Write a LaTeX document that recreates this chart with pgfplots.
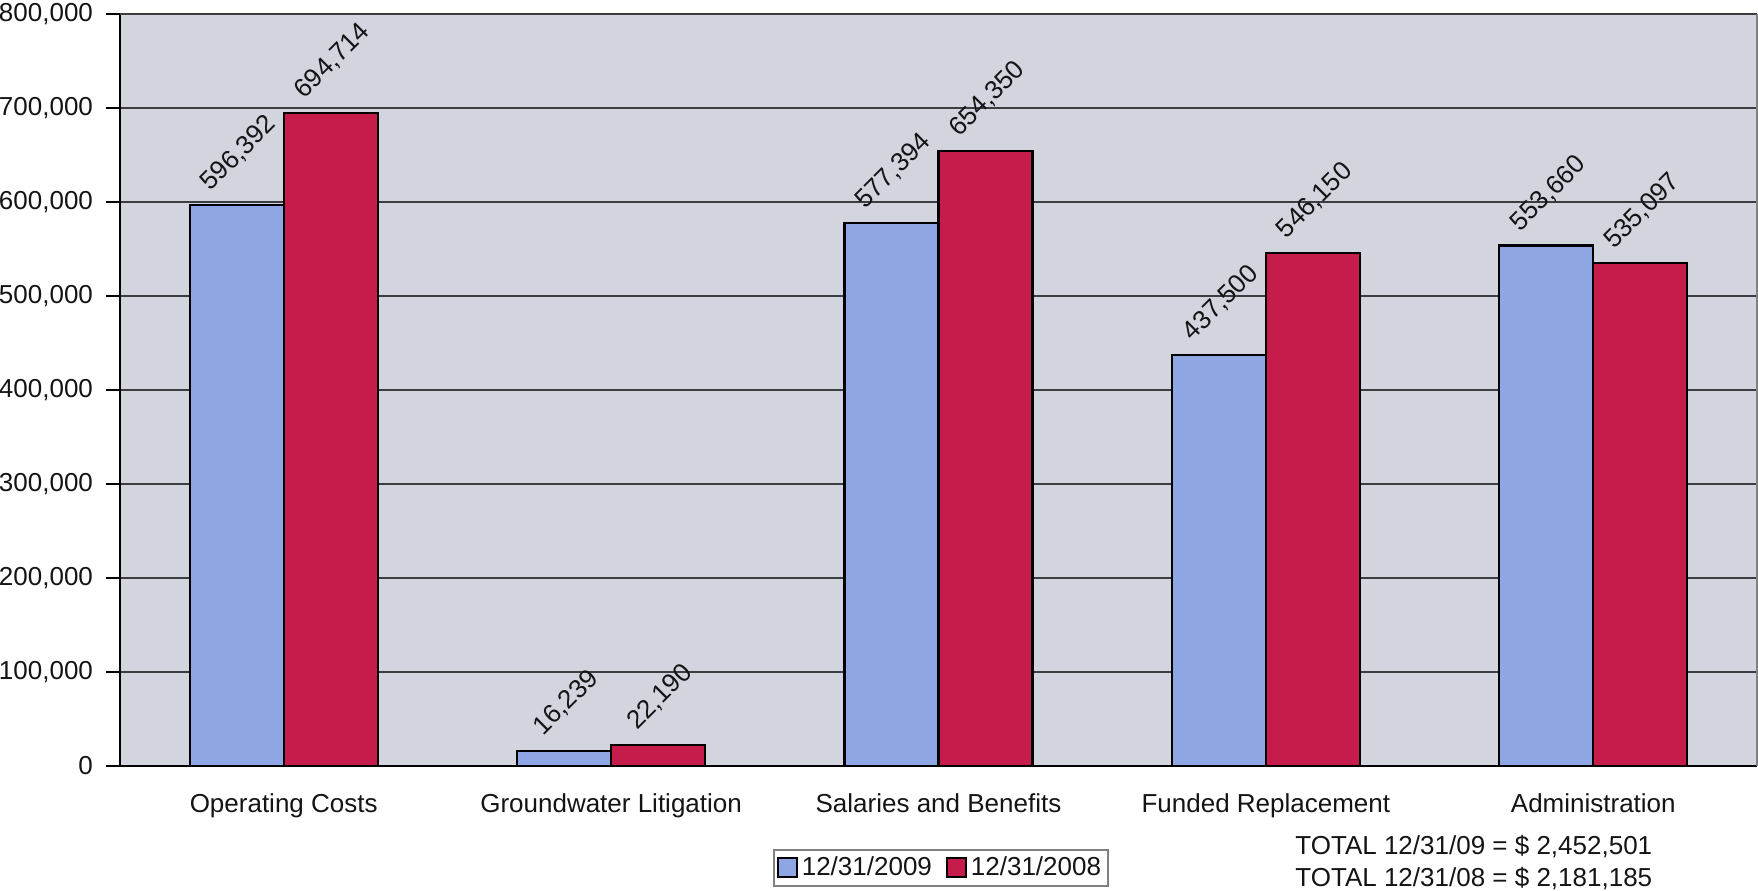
\documentclass[border=0pt]{standalone}
\usepackage{fontspec}
\setmainfont{Liberation Sans}
\usepackage{pgfplots}
\pgfplotsset{compat=1.18}

\definecolor{bar09}{RGB}{143,166,228}
\definecolor{bar08}{RGB}{198,28,76}
\definecolor{plotbg}{RGB}{210,212,222}
\definecolor{gridc}{RGB}{60,60,65}
\definecolor{txt}{RGB}{20,20,20}

\begin{document}
\begin{tikzpicture}[font=\fontsize{13bp}{15.5bp}\selectfont, text=txt]
\path[use as bounding box] (-60bp,-62.5bp) rectangle (819bp,383bp);
\begin{axis}[
  at={(0,0)}, anchor=south west,
  scale only axis,
  width=818.5bp, height=376bp,
  xmin=-0.5, xmax=4.5,
  ymin=0, ymax=800000,
  ytick={0,100000,...,800000},
  scaled y ticks=false,
  /pgf/number format/assume math mode=true,
  /pgf/number format/fixed,
  /pgf/number format/precision=0,
  /pgf/number format/1000 sep={,},
  yticklabel style={xshift=-3bp},
  xtick={0,1,2,3,4},
  xticklabels={Operating Costs, Groundwater Litigation, Salaries and Benefits, Funded Replacement, Administration},
  xticklabel style={yshift=-3.5bp},
  x tick style={draw=none},
  extra x ticks={-0.5,0.5,1.5,2.5,3.5,4.5},
  extra x tick labels={},
  extra x tick style={major tick length=7bp, tick align=outside, tick style={draw=black, line width=0.8bp}, grid=none},
  y tick style={draw=black, line width=0.8bp},
  tick align=outside,
  major tick length=7bp,
  ymajorgrids,
  grid style={draw=gridc, line width=0.9bp},
  axis background/.style={fill=plotbg},
  separate axis lines,
  axis x line*=bottom, axis y line*=left,
  x axis line style={draw=black, line width=1bp, -},
  y axis line style={draw=black, line width=1bp, -},
  bar width=0.287,
  ybar=0pt,
  nodes near coords,
  visualization depends on={x \as \catx},
  every node near coord/.append style={anchor=center,
    xshift=1bp, yshift={ifthenelse(\catx==1,24,26)*1bp}, rotate=45, text=txt},
  legend style={at={(0.5015,-0.1356)}, anchor=center, draw=gray, line width=0.8bp, fill=white,
    legend columns=2, inner sep=1.5bp,
    /tikz/every even column/.append style={column sep=5bp}},
  legend image code/.code={\draw[#1, line width=1bp] (0bp,-4.75bp) rectangle (9.5bp,4.75bp);},
  clip=false,
]
\addplot[fill=bar09, draw=black, line width=1.1bp, bar shift=-0.1435] coordinates {
  (0,596392) (1,16239) (2,577394) (3,437500) (4,553660)};
\addplot[fill=bar08, draw=black, line width=1.1bp, bar shift=0.1435] coordinates {
  (0,694714) (1,22190) (2,654350) (3,546150) (4,535097)};
\legend{12/31/2009, 12/31/2008}
\draw[gridc, line width=0.9bp] (rel axis cs:0,1) -- (rel axis cs:1,1);
\draw[gray, line width=0.8bp] (rel axis cs:1,1) -- (rel axis cs:1,0);
\end{axis}
\node[anchor=base west, inner sep=0pt] at (587.5bp,-44bp) {TOTAL 12/31/09 = \$ 2,452,501};
\node[anchor=base west, inner sep=0pt] at (587.5bp,-60bp) {TOTAL 12/31/08 = \$ 2,181,185};
\end{tikzpicture}
\end{document}
